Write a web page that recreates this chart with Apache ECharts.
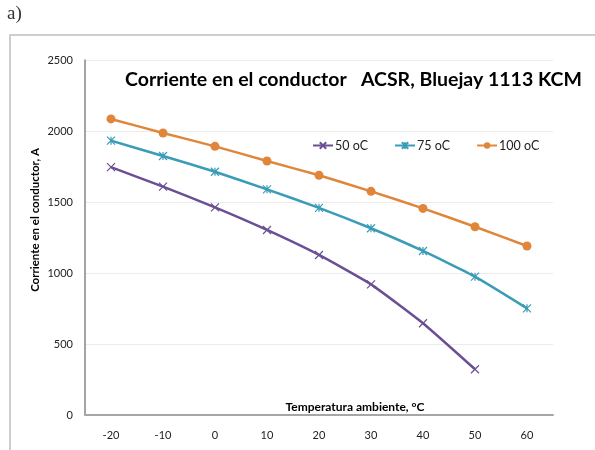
<!DOCTYPE html>
<html>
<head>
<meta charset="utf-8">
<script src="https://cdn.jsdelivr.net/npm/echarts@6/dist/echarts.min.js"></script>
<style>
  html, body { margin: 0; padding: 0; background: #fff; }
  #container { width: 595px; height: 450px; }
</style>
</head>
<body>
<div id="container"></div>
<script>
// datos
const temperaturas = ['-20', '-10', '0', '10', '20', '30', '40', '50', '60']
const serie50 = [1746, 1608, 1462, 1303, 1127, 920, 646, 322, null]
const serie75 = [1932, 1824, 1713, 1589, 1459, 1315, 1155, 974, 751]
const serie100 = [2085, 1986, 1892, 1789, 1688, 1575, 1455, 1326, 1190]
const nombres = ['50 oC', '75 oC', '100 oC']

const fuente = 'Lato, "Open Sans", sans-serif'
const morado = '#6a4f95'
const azul = '#3a9cb6'
const naranja = '#e0863b'

// simbolos tipo excel
const cruz = 'path://M0,0L10,10M10,0L0,10'
const asterisco = 'path://M0,0L10,10M10,0L0,10M5,0L5,10'

let chartDom = document.getElementById('container')
let myChart = echarts.init(chartDom, null, { renderer: 'canvas' })

let option = {
  animation: false,
  textStyle: { fontFamily: fuente },
  title: [
    {
      text: 'Corriente en el conductor   ACSR, Bluejay 1113 KCM',
      left: 120,
      top: 65,
      textStyle: { fontSize: 19.5, fontWeight: 'bold', color: '#000', fontFamily: fuente }
    },
    {
      text: 'Temperatura ambiente, °C',
      left: 350,
      top: 396,
      textAlign: 'center',
      textStyle: { fontSize: 12, fontWeight: 'bold', color: '#000', fontFamily: fuente }
    }
  ],
  legend: {
    left: 312,
    top: 139,
    padding: 0,
    itemWidth: 20,
    itemHeight: 8,
    itemGap: 26,
    textStyle: { fontSize: 12.5, color: '#222', padding: [0, 0, 0, -3] },
    data: nombres
  },
  graphic: [
    // marco exterior
    {
      type: 'polyline',
      shape: { points: [[10, 450], [10, 35], [595, 35]] },
      style: { stroke: '#bfbfbf', lineWidth: 1.5, fill: null }
    },
    {
      type: 'text',
      left: 7,
      top: 5,
      style: { text: 'a)', fontSize: 19, fill: '#333', fontFamily: '"Liberation Serif", serif' }
    },
    {
      type: 'text',
      x: 35,
      y: 220,
      rotation: Math.PI / 2,
      style: {
        text: 'Corriente en el conductor, A',
        fontSize: 11.5,
        fontWeight: 'bold',
        fill: '#000',
        fontFamily: fuente,
        align: 'center',
        verticalAlign: 'middle'
      }
    }
  ],
  grid: {
    left: 85,
    right: 42,
    top: 60,
    bottom: 35
  },
  xAxis: {
    type: 'category',
    data: temperaturas,
    boundaryGap: true,
    axisTick: { show: false },
    axisLine: { lineStyle: { color: '#a6a6a6', width: 2 } },
    axisLabel: { color: '#222', fontSize: 11, margin: 15 }
  },
  yAxis: {
    type: 'value',
    min: 0,
    max: 2500,
    interval: 500,
    axisLine: { show: true, lineStyle: { color: '#868686', width: 1.5 } },
    axisTick: { show: false },
    axisLabel: { color: '#222', fontSize: 11, margin: 12, formatter: v => String(v) },
    splitLine: { lineStyle: { color: '#ececec', width: 1 } }
  },
  series: [
    {
      name: nombres[0],
      type: 'line',
      data: serie50,
      symbol: cruz,
      symbolSize: 8,
      smooth: 0.15,
      lineStyle: { color: morado, width: 2.5 },
      itemStyle: { color: morado, borderColor: morado, borderWidth: 1.2 }
    },
    {
      name: nombres[1],
      type: 'line',
      data: serie75,
      symbol: asterisco,
      symbolSize: 8,
      smooth: 0.15,
      lineStyle: { color: azul, width: 2.5 },
      itemStyle: { color: azul, borderColor: azul, borderWidth: 1.2 }
    },
    {
      name: nombres[2],
      type: 'line',
      data: serie100,
      symbol: 'circle',
      symbolSize: 9,
      smooth: 0.15,
      lineStyle: { color: naranja, width: 2.5 },
      itemStyle: { color: naranja }
    }
  ]
}

option && myChart.setOption(option)
</script>
</body>
</html>
